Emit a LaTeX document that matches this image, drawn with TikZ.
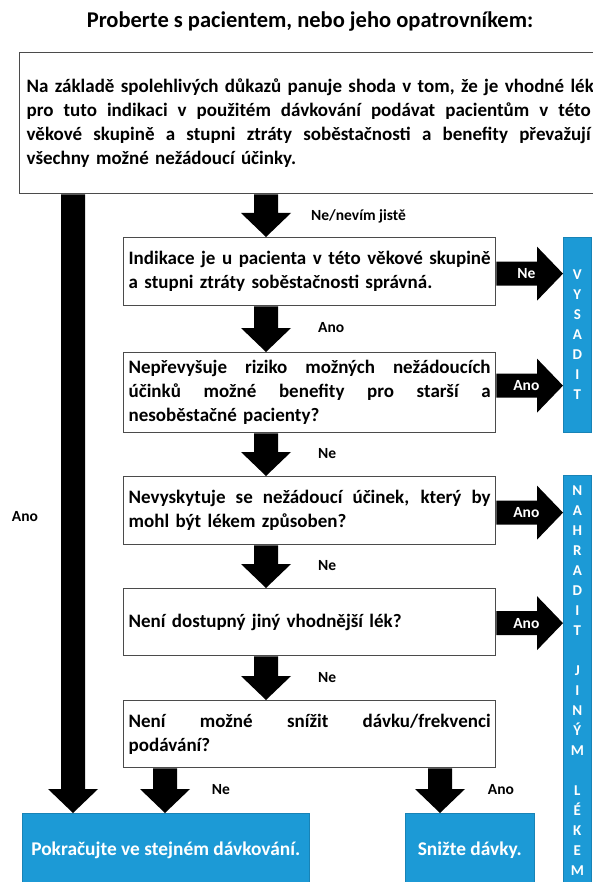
\documentclass[tikz,border=0pt]{standalone}
\usepackage{fontspec}
\setmainfont{Carlito}
\usetikzlibrary{calc}
\definecolor{box-blue}{RGB}{28,154,214}
\definecolor{box-gray}{RGB}{75,75,75}

% one justified line of a box
\newcommand{\jline}[1]{\makebox[\hsize][s]{\spaceskip=0pt\xspaceskip=0pt\relax #1}}
% thick block arrows, #1 = start, #2 = tip
\newcommand{\fatdown}[2]{%
  \fill ($(#1)+(-12,0)$) -- ($(#1)+(12,0)$) -- ($(#2)+(12,-24)$) -- ($(#2)+(25,-24)$)
    -- (#2) -- ($(#2)+(-25,-24)$) -- ($(#2)+(-12,-24)$) -- cycle;}
\newcommand{\fatright}[2]{%
  \fill ($(#1)+(0,-12)$) -- ($(#2)+(-26,-12)$) -- ($(#2)+(-26,-27)$) -- (#2)
    -- ($(#2)+(-26,27)$) -- ($(#2)+(-26,12)$) -- ($(#1)+(0,12)$) -- cycle;}

\begin{document}
\begin{tikzpicture}[x=1pt, y=-1pt,
    question/.style={draw=box-gray, line width=1.3pt, fill=white, anchor=north west,
      inner xsep=5pt, inner ysep=0pt, text width=362pt, align=left,
      font=\fontsize{19}{24}\selectfont\bfseries},
    endbox/.style={fill=box-blue, draw=box-blue!85!black, line width=0.6pt, anchor=north west,
      inner sep=0pt, text=white, font=\fontsize{19.4}{24}\selectfont\bfseries, minimum height=74pt},
    sidebox/.style={fill=box-blue, draw=box-blue!85!black, line width=0.6pt, anchor=north west,
      inner sep=0pt, minimum width=28pt, align=center, text=white,
      font=\fontsize{15}{20}\selectfont\bfseries},
    lbl/.style={inner sep=0pt, font=\fontsize{15.5}{18}\selectfont\bfseries},
    onarrow/.style={lbl, text=white}]
	\useasboundingbox (0,0) rectangle (593,882);

	\node[font=\fontsize{22.5}{26}\selectfont\bfseries] at (310,22) (title) {Proberte s pacientem, nebo jeho opatrovníkem:};

	\node[question, text width=564pt, inner xsep=7pt, minimum height=141pt] at (19,52) (q1) {%
		\makebox[\hsize][l]{Na základě spolehlivých důkazů panuje shoda v tom, že je vhodné lék}\\
		\jline{pro tuto indikaci v použitém dávkování podávat pacientům v této}\\
		\jline{věkové skupině a stupni ztráty soběstačnosti a benefity převažují}\\
		všechny možné nežádoucí účinky.};
	\node[question, minimum height=68pt] at (123,237) (q2) {%
		\jline{Indikace je u pacienta v této věkové skupině}\\
		a stupni ztráty soběstačnosti správná.};
	\node[question, minimum height=80pt] at (123,352) (q3) {%
		\jline{Nepřevyšuje riziko možných nežádoucích}\\
		\jline{účinků možné benefity pro starší a}\\
		nesoběstačné pacienty?};
	\node[question, minimum height=68pt] at (123,476) (q4) {%
		\jline{Nevyskytuje se nežádoucí účinek, který by}\\
		mohl být lékem způsoben?};
	\node[question, minimum height=67pt] at (123,588) (q5) {Není dostupný jiný vhodnější lék?};
	\node[question, minimum height=67pt] at (123,700) (q6) {%
		\jline{Není možné snížit dávku/frekvenci}\\
		podávání?};

	\node[sidebox, minimum height=195pt] at (563,237) (vys) {V\\Y\\S\\A\\D\\I\\T};
	\node[sidebox, minimum height=410pt] at (563,475) (nah) {N\\A\\H\\R\\A\\D\\I\\T\\[20pt]J\\I\\N\\Ý\\M\\[20pt]L\\É\\K\\E\\M};

	\node[endbox, minimum width=287pt] at (22,813) (keep) {Pokračujte ve stejném dávkování.};
	\node[endbox, minimum width=129pt] at (405,813) (reduce) {Snižte dávky.};

	\coordinate (mid) at (266,0);
	\coordinate (spine) at (73,0);
	\coordinate (lft) at (165,0);
	\coordinate (rgt) at (440,0);

	% down the middle
	\fatdown{mid |- q1.south}{mid |- q2.north}
	\fatdown{mid |- q2.south}{mid |- q3.north}
	\fatdown{mid |- q3.south}{mid |- q4.north}
	\fatdown{mid |- q4.south}{mid |- q5.north}
	\fatdown{mid |- q5.south}{mid |- q6.north}
	\fatdown{spine |- q1.south}{spine |- keep.north}
	\fatdown{lft |- q6.south}{lft |- keep.north}
	\fatdown{rgt |- q6.south}{rgt |- reduce.north}

	% to the right
	\coordinate (a2) at ($(q2.east)+(0,2)$);
	\coordinate (a3) at ($(q3.east)+(0,-7)$);
	\coordinate (a4) at ($(q4.east)+(0,2)$);
	\coordinate (a5) at ($(q5.east)+(0,1)$);
	\fatright{a2}{a2 -| vys.west}
	\fatright{a3}{a3 -| vys.west}
	\fatright{a4}{a4 -| nah.west}
	\fatright{a5}{a5 -| nah.west}

	\node[onarrow] at ($(a2)!0.45!(a2 -| vys.west)$) (l2) {Ne};
	\node[onarrow] at ($(a3)!0.45!(a3 -| vys.west)$) (l3) {Ano};
	\node[onarrow] at ($(a4)!0.45!(a4 -| nah.west)$) (l4) {Ano};
	\node[onarrow] at ($(a5)!0.45!(a5 -| nah.west)$) (l5) {Ano};

	\node[lbl, anchor=west] at (311,216) (n1) {Ne/nevím jistě};
	\node[lbl, anchor=west] at (318,328) (n2) {Ano};
	\node[lbl, anchor=west] at (318,454) (n3) {Ne};
	\node[lbl, anchor=west] at (318,566) (n4) {Ne};
	\node[lbl, anchor=west] at (318,678) (n5) {Ne};
	\node[lbl] at (25,517) (n6) {Ano};
	\node[lbl] at (221,790) (n7) {Ne};
	\node[lbl] at (501,790) (n8) {Ano};
\end{tikzpicture}
\end{document}
